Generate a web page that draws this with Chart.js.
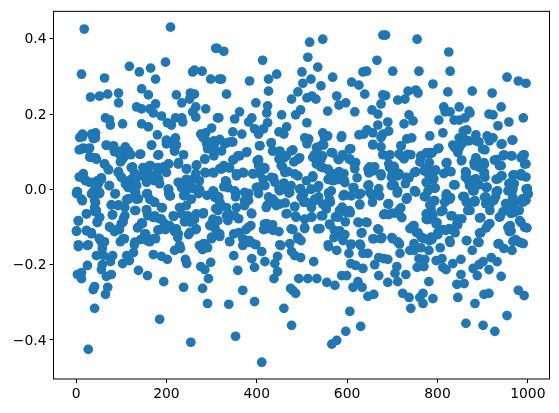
<!DOCTYPE html>
<html><head><meta charset="utf-8">
<style>html,body{margin:0;padding:0;background:#fff}canvas{display:block}</style>
<script src="https://cdn.jsdelivr.net/npm/chart.js@4"></script>
</head><body><canvas id="c" width="559" height="413"></canvas>
<script>
const xTickValues=[0,200,400,600,800,1000];
const yTickValues=[-0.4,-0.2,0,0.2,0.4];
const pointsLeft=[[18,.426],[209,.431],[309,.375],[12,.306],[63,.296],[118,.327],[140,.312],[165,.322],[198,.338],[176,.293],[258,.312],[262,.317],[279,.314],[298,.293],[317,.293],[145,.267],[160,.251],[94,.256],[94,.230],[32,.245],[52,.248],[70,.253],[222,.251],[234,.230],[253,.256],[262,.253],[251,.240],[134,.219],[145,.214],[163,.214],[176,.227],[171,.203],[189,.195],[265,.219],[258,.206],[265,.192],[287,.214],[313,.190],[65,.190],[74,.185],[76,.171],[103,.174],[145,.174],[160,.166],[202,.177],[211,.171],[220,.190],[234,.190],[236,.179],[180,.145],[14,.147],[14,.140],[34,.147],[43,.150],[43,.137],[276,.147],[287,.150],[300,.163],[200,.131],[220,.137],[200,.121],[222,.118],[218,.102],[167,.118],[287,.131],[305,.129],[289,.121],[305,.116],[291,.108],[305,.102],[305,.089],[67,.118],[83,.116],[7,.105],[16,.110],[30,.110],[30,.086],[43,.084],[109,.113],[116,.102],[85,.100],[96,.094],[121,.092],[143,.094],[183,.092],[238,.092],[285,.081],[105,.084],[98,.073],[63,.068],[72,.052],[125,.060],[149,.057],[165,.063],[205,.068],[227,.071],[194,.060],[267,.065],[245,.055],[94,.047],[129,.044],[160,.042],[180,.047],[183,.028],[16,.042],[7,.033],[21,.023],[34,.018],[56,.031],[47,.023],[74,.010],[100,.033],[116,.023],[109,.015],[132,.015],[152,.033],[185,.015],[229,.018],[249,.012],[265,.042],[287,.044],[305,.044],[273,.023],[3,-.006],[38,-.006],[52,-.011],[87,-.011],[132,-.009],[158,-.011],[205,0],[209,-.017],[240,-.017],[273,0],[305,-.006],[260,.002],[290,-.016],
[5,-.084],[1,-.110],[23,-.110],[34,-.115],[5,-.152],[25,-.149],[25,-.202],[3,-.226],[12,-.221],[12,-.237],[41,-.258],[38,-.266],[41,-.316],[27,-.425],[70,-.260],[65,-.279],[185,-.345],[254,-.406],[194,-.245],[238,-.260],[280,-.263],[291,-.303],[293,-.237],[276,-.205],[285,-.213],[298,-.194],[158,-.229],[138,-.215],[78,-.226],[67,-.231],[56,-.213],[58,-.200],[81,-.176],[76,-.192],[103,-.197],[118,-.189],[112,-.176],[127,-.168],[171,-.173],[189,-.178],[202,-.186],[242,-.186],[245,-.197],[218,-.162],[231,-.157],[273,-.149],[282,-.144],[280,-.160],[291,-.155],[52,-.131],[63,-.139],[58,-.157],[45,-.176],[61,-.176],[98,-.139],[107,-.131],[129,-.147],[143,-.133],[154,-.118],[163,-.139],[176,-.131],[14,-.030],[1,-.011],[43,-.011],[43,-.035],[23,-.065],[41,-.059],[52,-.075],[47,-.088],[78,-.041],[81,-.067],[94,-.041],[112,-.027],[132,-.056],[105,-.078],[100,-.091],[74,-.099],[85,-.112],[96,-.107],[136,-.102],[147,-.091],[156,-.054],[158,-.065],[171,-.075],[191,-.049],[185,-.078],[196,-.091],[185,-.107],[198,-.107],[216,-.072],[231,-.049],[240,-.086],[247,-.070],[262,-.080],[282,-.062],[218,-.112],[225,-.128],[249,-.120],[265,-.107],[300,-.131],[316,-.118],[300,-.091],[309,-.051],[316,-.020],[173,-.034],[138,-.025],[116,-.025],[205,-.011],[238,-.016],[271,-.011]];
const pointsMiddle=[[327,.367],[312,.375],[517,.391],[546,.399],[679,.410],[513,.351],[413,.343],[666,.343],[535,.325],[444,.306],[322,.293],[384,.288],[426,.293],[500,.312],[520,.293],[502,.282],[568,.298],[610,.285],[626,.277],[635,.312],[643,.314],[542,.275],[333,.253],[426,.261],[491,.259],[477,.240],[511,.243],[522,.248],[531,.240],[577,.248],[639,.253],[679,.251],[398,.230],[424,.222],[582,.224],[597,.230],[675,.227],[557,.208],[617,.206],[655,.211],[668,.200],[362,.206],[422,.203],[455,.198],[497,.211],[486,.198],[351,.187],[316,.190],[389,.190],[382,.179],[424,.177],[511,.177],[466,.166],[449,.153],[460,.147],[395,.161],[404,.147],[415,.161],[347,.153],[367,.147],[546,.150],[557,.142],[588,.142],[626,.145],[644,.158],[668,.171],[657,.150],[637,.147],[679,.147],[407,.116],[506,.137],[515,.134],[511,.121],[342,.126],[329,.121],[308,.125],[432,.123],[548,.118],[537,.113],[608,.108],[657,.118],[675,.113],[435,.102],[480,.105],[451,.102],[378,.100],[362,.089],[349,.079],[568,.097],[528,.092],[590,.092],[582,.079],[606,.081],[679,.092],[460,.084],[449,.081],[495,.084],[482,.073],[404,.079],[404,.063],[418,.057],[542,.079],[546,.089],[619,.071],[318,.055],[327,.063],[340,.057],[457,.060],[650,.060],[661,.060],[355,.036],[371,.044],[391,.042],[406,.042],[437,.031],[469,.047],[491,.036],[524,.036],[542,.060],[559,.050],[582,.047],[593,.042],[617,.055],[648,.044],[559,.026],[579,.026],[622,.031],[675,.036],[331,.023],[327,.007],[418,.010],[402,.006],[449,0],[471,-.006],[460,.017],[497,.002],[520,0],[537,.010],[595,.018],[615,.005],[648,.012],[670,.002],[353,-.009],[382,-.011],[404,-.011],[559,-.009],[593,-.014],[626,-.014],[655,-.016],[426,-.020],[500,-.020],[537,-.020],
[411,-.459],[353,-.390],[338,-.305],[395,-.298],[369,-.268],[358,-.215],[395,-.207],[389,-.184],[349,-.176],[418,-.192],[438,-.237],[446,-.218],[440,-.197],[446,-.178],[460,-.316],[477,-.361],[486,-.276],[475,-.263],[480,-.269],[493,-.237],[513,-.237],[533,-.237],[555,-.247],[573,-.255],[526,-.192],[497,-.181],[477,-.165],[484,-.176],[453,-.149],[473,-.144],[491,-.131],[411,-.165],[398,-.147],[369,-.149],[376,-.136],[384,-.141],[340,-.139],[318,-.125],[349,-.118],[360,-.115],[376,-.107],[387,-.096],[415,-.107],[422,-.091],[435,-.094],[449,-.112],[480,-.107],[506,-.104],[540,-.104],[559,-.152],[577,-.162],[571,-.128],[584,-.110],[595,-.120],[562,-.094],[626,-.088],[644,-.088],[633,-.115],[670,-.107],[659,-.131],[677,-.128],[608,-.147],[630,-.149],[604,-.170],[635,-.170],[646,-.170],[608,-.197],[619,-.202],[635,-.210],[661,-.200],[670,-.181],[681,-.184],[670,-.229],[588,-.229],[599,-.229],[624,-.245],[613,-.260],[633,-.260],[646,-.284],[659,-.279],[606,-.324],[630,-.364],[597,-.377],[577,-.401],[566,-.411],[681,-.067],[308,-.104],[319,-.038],[338,-.065],[360,-.078],[389,-.065],[353,-.020],[382,-.029],[423,-.042],[441,-.034],[463,-.036],[484,-.046],[467,-.064],[486,-.071],[504,-.034],[522,-.073],[546,-.070],[551,-.043],[530,-.029],[563,-.034],[589,-.047],[607,-.062],[574,-.073],[596,-.086],[628,-.041],[656,-.034],[667,-.011],[596,-.016],[630,-.011],[471,-.010],[504,-.011],[559,-.011]];
const pointsRight=[[755,.399],[825,.365],[685,.410],[701,.314],[759,.314],[828,.314],[954,.298],[979,.288],[996,.282],[790,.280],[823,.259],[877,.261],[921,.256],[735,.261],[752,.264],[757,.256],[712,.237],[728,.240],[685,.249],[814,.219],[817,.206],[828,.206],[848,.219],[870,.208],[872,.203],[861,.190],[837,.184],[848,.184],[803,.184],[941,.219],[914,.200],[923,.198],[990,.190],[958,.179],[934,.169],[737,.198],[746,.182],[726,.174],[690,.179],[692,.155],[783,.142],[812,.150],[857,.155],[865,.158],[885,.145],[910,.142],[923,.137],[943,.121],[967,.131],[743,.137],[732,.134],[719,.116],[848,.137],[859,.134],[834,.118],[848,.110],[870,.129],[892,.126],[905,.105],[803,.110],[788,.097],[775,.097],[763,.089],[761,.073],[715,.094],[726,.081],[741,.092],[695,.092],[821,.071],[854,.078],[885,.084],[881,.071],[903,.071],[930,.079],[947,.092],[965,.089],[992,.092],[985,.084],[996,.068],[941,.063],[692,.068],[704,.061],[772,.055],[779,.042],[796,.052],[830,.047],[814,.042],[862,.047],[903,.042],[892,.059],[752,.047],[737,.031],[715,.042],[700,.042],[970,.039],[985,.042],[996,.033],[943,.036],[934,.028],[905,.032],[885,.028],[862,.032],[785,.037],[777,.017],[792,.028],[839,.012],[870,.019],[892,.012],[729,.015],[704,.012],[970,.015],[958,.015],[910,.006],[999,.002],[881,-.004],[750,-.004],[795,.004],[711,-.006],[933,-.004],[966,-.003],[1001,-.012],[820,-.012],[859,-.019],[774,-.019],[733,-.022],[907,-.020],[829,-.022],[792,-.03],[883,-.03],[929,-.019],[966,-.025],[988,-.025],
[927,-.377],[901,-.361],[863,-.356],[954,-.335],[883,-.303],[741,-.316],[768,-.303],[845,-.287],[790,-.290],[737,-.287],[723,-.276],[768,-.276],[761,-.287],[903,-.279],[914,-.276],[979,-.268],[992,-.282],[941,-.231],[843,-.252],[859,-.250],[852,-.226],[781,-.245],[888,-.229],[914,-.213],[879,-.210],[892,-.200],[901,-.192],[919,-.181],[932,-.192],[690,-.247],[712,-.245],[710,-.205],[706,-.223],[730,-.226],[717,-.170],[690,-.186],[755,-.207],[770,-.205],[759,-.184],[772,-.186],[819,-.213],[812,-.207],[834,-.197],[852,-.186],[797,-.189],[810,-.184],[877,-.162],[865,-.136],[892,-.141],[936,-.144],[947,-.157],[965,-.162],[970,-.136],[973,-.133],[990,-.144],[981,-.140],[828,-.141],[806,-.155],[781,-.162],[763,-.155],[748,-.144],[739,-.162],[748,-.162],[699,-.128],[712,-.139],[788,-.133],[766,-.128],[757,-.115],[739,-.104],[748,-.096],[801,-.120],[812,-.107],[826,-.104],[839,-.115],[843,-.091],[854,-.078],[832,-.070],[777,-.080],[790,-.070],[799,-.088],[812,-.056],[896,-.115],[908,-.102],[916,-.091],[896,-.075],[961,-.096],[963,-.110],[985,-.088],[998,-.102],[939,-.072],[950,-.056],[963,-.064],[981,-.056],[721,-.075],[692,-.067],[707,-.063],[719,-.049],[732,-.025],[772,-.019],[783,-.041],[794,-.030],[817,-.033],[825,-.022],[859,-.019],[868,-.035],[883,-.033],[872,-.056],[916,-.056],[907,-.038],[925,-.029],[970,-.038],[996,-.029],[951,-.038],[692,-.038],[752,-.007],[711,-.010]];
const pointsBandLeft=[[12,.107],[27,.107],[8,.138],[38,.135],[34,.085],[45,.080],[67,.117],[82,.111],[97,.102],[111,.107],[115,.093],[100,.076],[141,.093],[167,.117],[181,.091],[200,.129],[215,.120],[218,.102],[218,.133],[63,.067],[71,.054],[93,.045],[100,.032],[122,.058],[148,.058],[163,.063],[181,.058],[204,.067],[226,.067],[200,.045],[178,.041],[159,.036],[141,.036],[122,.027],[12,.032],[19,.027],[30,.019],[56,.027],[49,.014],[73,.010],[134,.010],[130,-.008],[115,.005],[174,.023],[156,.019],[226,.019],[233,.005],[204,.001],[207,-.017],[2,-.006],[12,-.026],[34,-.012],[52,-.008],[86,-.012],[156,-.012],[163,-.026],[174,-.034],[115,-.026],[134,-.026],[41,-.030],[41,-.048],[78,-.041],[93,-.043],[108,-.048],[130,-.056],[156,-.054],[189,-.048],[229,-.048],[23,-.065],[45,-.056],[52,-.074],[80,-.068],[108,-.070],[159,-.070],[174,-.070],[189,-.079],[215,-.070],[233,-.065],[5,-.083],[47,-.086],[104,-.087],[145,-.089],[75,-.101],[93,-.105],[207,-.096],[222,-.105],[137,-.101],[181,-.108],[1,-.111],[23,-.109],[34,-.118],[152,-.118],[226,-.118],[51,-.130],[56,-.140],[104,-.131],[130,-.140],[157,-.136],[170,-.131],[5,-.147],[27,-.147],[229,-.149]];
const pointsBandMiddle=[[281,.138],[296,.120],[303,.102],[322,.102],[333,.124],[347,.126],[318,.133],[285,.080],[358,.089],[347,.078],[377,.098],[406,.116],[432,.124],[436,.102],[451,.098],[476,.102],[465,.089],[491,.080],[401,.076],[406,.063],[454,.063],[244,.054],[266,.063],[285,.045],[303,.045],[322,.054],[336,.058],[417,.054],[462,.045],[484,.041],[244,.027],[259,.027],[355,.041],[369,.045],[392,.041],[432,.032],[333,.019],[414,.027],[414,.010],[399,.005],[336,.005],[440,.019],[462,.010],[476,.010],[495,.001],[510,.023],[244,-.004],[274,-.004],[303,-.004],[351,-.004],[373,-.008],[451,-.004],[473,-.008],[307,-.021],[255,-.026],[318,-.034],[373,-.030],[436,-.026],[498,-.021],[510,-.034],[451,-.039],[421,-.048],[443,-.043],[484,-.045],[333,-.048],[355,-.048],[373,-.043],[244,-.043],[314,-.056],[281,-.065],[266,-.065],[333,-.070],[351,-.070],[388,-.063],[465,-.065],[487,-.074],[506,-.079],[252,-.087],[303,-.079],[314,-.083],[336,-.083],[296,-.096],[381,-.101],[417,-.092],[432,-.096],[476,-.105],[506,-.101],[266,-.105],[252,-.114],[318,-.118],[300,-.127],[491,-.127],[421,-.105],[436,-.109],[369,-.131],[384,-.136],[340,-.138],[285,-.145],[451,-.147],[498,-.136],[395,-.145]];
const pointsBandRight=[[546,.120],[532,.111],[550,.138],[587,.138],[657,.120],[675,.138],[605,.107],[565,.098],[580,.080],[591,.089],[605,.080],[616,.067],[690,.089],[720,.116],[720,.089],[734,.093],[764,.085],[782,.093],[782,.071],[524,.085],[539,.089],[532,.067],[546,.058],[558,.054],[572,.041],[583,.045],[646,.054],[657,.049],[675,.041],[694,.058],[705,.054],[749,.045],[771,.049],[786,.049],[594,.023],[558,.027],[569,.023],[580,.027],[524,.032],[613,.005],[698,.032],[712,.036],[731,.032],[782,.027],[521,.001],[535,.005],[565,-.004],[628,-.012],[646,.010],[650,-.008],[698,.010],[712,-.004],[749,-.004],[731,-.026],[771,-.019],[591,-.017],[609,-.017],[672,-.017],[690,-.039],[628,-.039],[528,-.026],[561,-.026],[521,-.048],[546,-.039],[554,-.052],[583,-.056],[598,-.061],[605,-.056],[683,-.065],[698,-.063],[716,-.054],[786,-.043],[782,-.065],[521,-.074],[543,-.070],[580,-.074],[624,-.087],[642,-.087],[775,-.079],[561,-.092],[745,-.098],[535,-.105],[572,-.109],[668,-.105],[583,-.118],[631,-.116],[753,-.114],[657,-.131],[675,-.131],[764,-.127],[591,-.136],[609,-.145],[628,-.145],[558,-.147],[701,-.131],[716,-.145],[782,-.136],
[838,.111],[853,.120],[864,.129],[886,.129],[915,.129],[941,.120],[965,.131],[845,.098],[900,.107],[801,.108],[783,.098],[853,.076],[819,.070],[886,.080],[904,.067],[926,.078],[945,.089],[963,.089],[989,.091],[993,.067],[937,.063],[882,.063],[794,.049],[775,.049],[823,.049],[864,.045],[904,.045],[967,.038],[985,.036],[864,.032],[882,.027],[941,.036],[930,.027],[786,.027],[775,.019],[871,.010],[886,.019],[836,.012],[908,.005],[963,.019],[967,.001],[996,.001],[794,.003],[779,-.004],[878,-.004],[956,-.004],[1000,-.012],[930,-.006],[856,-.019],[904,-.021],[819,-.017],[827,-.026],[967,-.021],[816,-.034],[864,-.034],[881,-.033],[923,-.030],[915,-.043],[971,-.034],[989,-.034],[808,-.059],[867,-.056],[786,-.056],[956,-.048],[945,-.059],[971,-.061],[937,-.074],[893,-.076],[775,-.065],[830,-.070],[845,-.079],[783,-.079],[797,-.092],[845,-.094],[912,-.094],[982,-.083],[993,-.101],[956,-.101],[959,-.112],[819,-.109],[893,-.116],[801,-.114],[834,-.109],[827,-.136],[864,-.136],[889,-.140],[786,-.127],[934,-.145],[967,-.138],[985,-.142],[771,-.131]];
const allPoints=[...pointsLeft,...pointsMiddle,...pointsRight,...pointsBandLeft,...pointsBandMiddle,...pointsBandRight].map(p=>({x:p[0],y:p[1]}));
const frame={id:'frame',afterDatasetsDraw(ch){const a=ch.chartArea,c=ch.ctx;c.save();c.strokeStyle='#000';c.lineWidth=1;c.strokeRect(a.left,a.top,a.right-a.left,a.bottom-a.top);c.restore();}};
const tickFont={family:'"DejaVu Sans"',size:13.9};
new Chart(document.getElementById('c'),{
 type:'scatter',
 data:{datasets:[{data:allPoints,backgroundColor:'#1f77b4',borderWidth:0,pointRadius:4.85,pointHoverRadius:4.85}]},
 plugins:[frame],
 options:{responsive:false,animation:false,
  layout:{padding:{left:0,top:10,right:9.5,bottom:0}},
  plugins:{legend:{display:false},tooltip:{enabled:false}},
  scales:{
   x:{type:'linear',min:-50,max:1048,
    afterBuildTicks(s){s.ticks=xTickValues.map(v=>({value:v}));},
    afterFit(s){s.height=34;},
    grid:{drawOnChartArea:false,drawTicks:true,tickLength:4,color:'#000',lineWidth:1},
    border:{display:false},
    ticks:{font:tickFont,color:'#000',maxRotation:0,autoSkip:false,padding:3,callback:v=>String(v)}},
   y:{type:'linear',min:-0.5036,max:0.473,
    afterBuildTicks(s){s.ticks=yTickValues.map(v=>({value:v}));
      if(!s._shifted){s._shifted=true;const o=s.getLabelItems.bind(s);let done=null;s.getLabelItems=a=>{if(!s._labelItems){const r=o(a);r.forEach(i=>{i.options.translation[1]+=1;});return r;}return o(a);};}},
    afterFit(s){s.width=53.5;},
    grid:{drawOnChartArea:false,drawTicks:true,tickLength:4,color:'#000',lineWidth:1},
    border:{display:false},
    ticks:{font:tickFont,color:'#000',autoSkip:false,padding:3,callback:v=>v.toFixed(1).replace('-','\u2212').replace(/^\u22120\.0$/,'0.0')}}
  }}
});
</script></body></html>
